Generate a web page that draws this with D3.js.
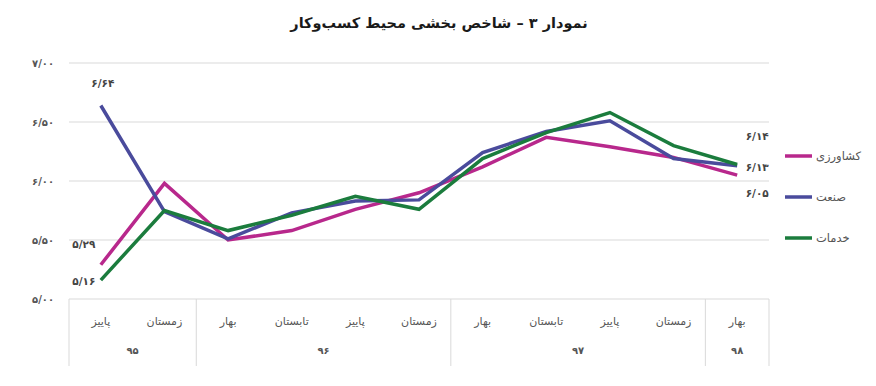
<!DOCTYPE html>
<html lang="fa">
<head>
<meta charset="UTF-8">
<title>نمودار ۳</title>
<script src="https://d3js.org/d3.v7.min.js"></script>
<style>
  body { margin: 0; background: #fff; }
  svg text { font-family: "DejaVu Sans", "Noto Sans", sans-serif; }
</style>
</head>
<body>
<div id="chart"></div>
<script>
// categories (season, left to right) and year groups
const seasons = ["پاییز", "زمستان", "بهار", "تابستان", "پاییز", "زمستان", "بهار", "تابستان", "پاییز", "زمستان", "بهار"];
const years = [
  { label: "۹۵", count: 2 },
  { label: "۹۶", count: 4 },
  { label: "۹۷", count: 4 },
  { label: "۹۸", count: 1 }
];
const yTicks = [5.0, 5.5, 6.0, 6.5, 7.0];

// series values
const keshavarzi = [5.29, 5.98, 5.50, 5.58, 5.76, 5.90, 6.12, 6.37, 6.29, 6.20, 6.05];
const sanat      = [6.64, 5.74, 5.51, 5.73, 5.83, 5.84, 6.24, 6.42, 6.51, 6.19, 6.13];
const khadamat   = [5.16, 5.75, 5.58, 5.71, 5.87, 5.76, 6.19, 6.41, 6.58, 6.30, 6.14];

const series = [
  { name: "کشاورزی", values: keshavarzi, color: "#b8288c" },
  { name: "صنعت", values: sanat, color: "#4a4b9c" },
  { name: "خدمات", values: khadamat, color: "#1b7c3d" }
];

const width = 876, height = 386;
const plotLeft = 69, plotRight = 769, plotTop = 63, plotBottom = 299;

// persian digits with "/" as decimal mark
function fa(v, d) {
  return v.toFixed(d).replace(".", "/").replace(/[0-9]/g, c => "۰۱۲۳۴۵۶۷۸۹"[+c]);
}

const svg = d3.select("#chart").append("svg")
  .attr("width", width)
  .attr("height", height);

const x = d3.scaleBand()
  .domain(d3.range(seasons.length))
  .range([plotLeft, plotRight]);

const y = d3.scaleLinear()
  .domain([5, 7])
  .range([plotBottom, plotTop]);

// title
svg.append("text")
  .attr("x", 439)
  .attr("y", 28)
  .attr("text-anchor", "middle")
  .style("font-size", "14.5px")
  .style("font-weight", "bold")
  .style("fill", "#1a1a1a")
  .text("نمودار ۳ – شاخص بخشی محیط کسب‌وکار");

// gridlines
svg.append("g").selectAll("line")
  .data(yTicks)
  .enter().append("line")
  .attr("x1", plotLeft).attr("x2", plotRight)
  .attr("y1", d => y(d)).attr("y2", d => y(d))
  .style("stroke", "#d9d9d9")
  .style("stroke-width", 1);

// y labels
svg.append("g").selectAll("text")
  .data(yTicks)
  .enter().append("text")
  .attr("x", 54)
  .attr("y", d => y(d) + 4)
  .attr("text-anchor", "end")
  .style("font-size", "10px")
  .style("font-weight", "bold")
  .style("fill", "#555")
  .text(d => fa(d, 2));

// category axis: season labels, year labels, separators
svg.append("g").selectAll("text")
  .data(seasons)
  .enter().append("text")
  .attr("x", (d, i) => x(i) + x.bandwidth() / 2)
  .attr("y", 325)
  .attr("text-anchor", "middle")
  .style("font-size", "11px")
  .style("fill", "#555")
  .text(d => d);

let start = 0;
const bounds = [0];
years.forEach(g => {
  const x0 = x(start), x1 = x(start + g.count - 1) + x.bandwidth();
  svg.append("text")
    .attr("x", (x0 + x1) / 2)
    .attr("y", 354)
    .attr("text-anchor", "middle")
    .style("font-size", "10px")
    .style("font-weight", "bold")
    .style("fill", "#555")
    .text(g.label);
  start += g.count;
  bounds.push(start);
});

svg.append("g").selectAll("line")
  .data(bounds)
  .enter().append("line")
  .attr("x1", d => d === seasons.length ? plotRight : x(d))
  .attr("x2", d => d === seasons.length ? plotRight : x(d))
  .attr("y1", plotBottom).attr("y2", 366)
  .style("stroke", "#d9d9d9")
  .style("stroke-width", 1);

// lines
const line = d3.line()
  .x((d, i) => x(i) + x.bandwidth() / 2)
  .y(d => y(d));

svg.append("g").selectAll("path")
  .data(series)
  .enter().append("path")
  .attr("d", d => line(d.values))
  .style("fill", "none")
  .style("stroke", d => d.color)
  .style("stroke-width", 3.5)
  .style("stroke-linejoin", "miter");

// data labels at the ends
const last = seasons.length - 1;
const cx = i => x(i) + x.bandwidth() / 2;
const labels = [
  { i: 0, v: sanat[0], dx: 2, dy: -22 },
  { i: 0, v: keshavarzi[0], dx: -17, dy: -21 },
  { i: 0, v: khadamat[0], dx: -17, dy: 1 },
  { i: last, v: khadamat[last], dx: 20, dy: -28 },
  { i: last, v: sanat[last], dx: 20, dy: 1 },
  { i: last, v: keshavarzi[last], dx: 20, dy: 18 }
];
svg.append("g").selectAll("text")
  .data(labels)
  .enter().append("text")
  .attr("x", d => cx(d.i) + d.dx)
  .attr("y", d => y(d.v) + d.dy + 4)
  .attr("text-anchor", "middle")
  .style("font-size", "10.5px")
  .style("font-weight", "bold")
  .style("fill", "#444")
  .text(d => fa(d.v, 2));

// legend
const legend = svg.append("g").selectAll("g")
  .data(series)
  .enter().append("g")
  .attr("transform", (d, i) => `translate(785,${156 + i * 41})`);

legend.append("line")
  .attr("x1", 0).attr("x2", 27)
  .style("stroke", d => d.color)
  .style("stroke-width", 3.5);

legend.append("text")
  .attr("x", 31)
  .attr("y", 4)
  .style("font-size", "11.5px")
  .style("fill", "#555")
  .text(d => d.name);
</script>
</body>
</html>
